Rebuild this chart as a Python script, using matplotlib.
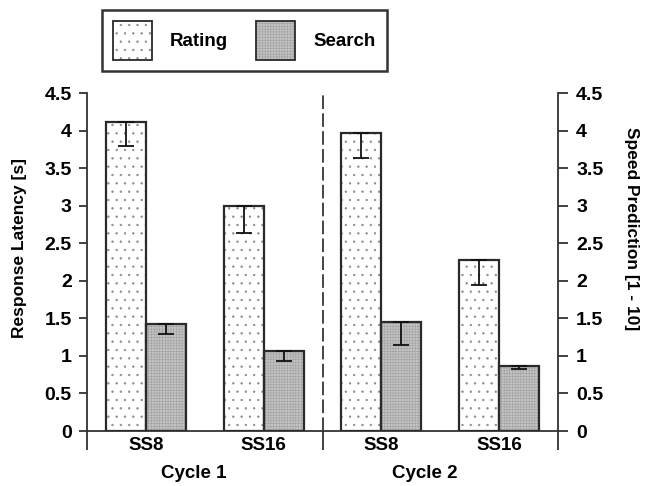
import matplotlib
matplotlib.use("Agg")
import matplotlib.pyplot as plt
from matplotlib.patches import Patch, Rectangle

plt.rcParams['font.family'] = ['Liberation Sans', 'DejaVu Sans']
plt.rcParams['font.weight'] = 'bold'
plt.rcParams['hatch.linewidth'] = 0.45

# Data
conditions = ["SS8", "SS16", "SS8", "SS16"]
cycles = ["Cycle 1", "Cycle 2"]
rating = [4.12, 3.00, 3.97, 2.28]
rating_err = [0.32, 0.36, 0.33, 0.33]
search = [1.42, 1.06, 1.45, 0.87]
search_err = [0.13, 0.13, 0.31, 0.04]
yticks = [0, 0.5, 1, 1.5, 2, 2.5, 3, 3.5, 4, 4.5]
ytick_labels = ["0", "0.5", "1", "1.5", "2", "2.5", "3", "3.5", "4", "4.5"]

W, H = 646, 486
fig = plt.figure(figsize=(W / 100, H / 100), dpi=100)
ax = fig.add_axes([87 / W, 1 - 431 / H, 471 / W, 338 / H])

centers = [0.5, 1.5, 2.5, 3.5]
bw = 0.34
edge = '#2a2a2a'
rating_dots = '#8a8a8a'
search_fill = '#c4c4c4'
search_grid = '#a2a2a2'
x_r = [c - bw / 2 for c in centers]
x_s = [c + bw / 2 for c in centers]

# Rating bars: dotted fill
ax.bar(x_r, rating, bw, color='white', hatch='..', edgecolor=rating_dots, linewidth=0, zorder=2)
ax.bar(x_r, rating, bw, fill=False, edgecolor=edge, linewidth=1.6, zorder=3)
# Search bars: fine grey grid fill
ax.bar(x_s, search, bw, color=search_fill, hatch='++++++', edgecolor=search_grid, linewidth=0, zorder=2)
ax.bar(x_s, search, bw, fill=False, edgecolor=edge, linewidth=1.6, zorder=3)

# Lower-only error bars
ax.errorbar(x_r, rating, yerr=[rating_err, [0] * 4], fmt='none', ecolor='#111111',
            elinewidth=1.3, capsize=5.5, capthick=1.3, zorder=4)
ax.errorbar(x_s, search, yerr=[search_err, [0] * 4], fmt='none', ecolor='#111111',
            elinewidth=1.3, capsize=5.5, capthick=1.3, zorder=4)

# Cycle separator
ax.axvline(2, color='#444444', linestyle=(0, (7, 2.2)), linewidth=1.4, zorder=1)

ax.set_xlim(0, 4)
ax.set_ylim(0, 4.5)
ax.spines['top'].set_visible(False)
for s in ['left', 'right', 'bottom']:
    ax.spines[s].set_linewidth(1.3)
    ax.spines[s].set_color('#333333')

ax.set_xticks([0, 2, 4])
ax.set_xticklabels([])
ax.tick_params(axis='x', which='major', length=13.5, width=1.3, color='#333333', direction='out')
ax.set_xticks(centers, minor=True)
ax.set_xticklabels(conditions, minor=True, fontsize=13.5, fontweight='bold')
ax.tick_params(axis='x', which='minor', length=0, pad=4)

ax.set_yticks(yticks)
ax.set_yticklabels(ytick_labels, fontsize=14, fontweight='bold')
ax.tick_params(axis='y', length=6, width=1.3, color='#333333', pad=5)
ax.set_ylabel("Response Latency [s]", fontsize=12.5, fontweight='bold')
ax.yaxis.set_label_coords(-0.127, 0.54)

ax2 = ax.twinx()
ax2.set_ylim(0, 4.5)
ax2.set_yticks(yticks)
ax2.set_yticklabels(ytick_labels, fontsize=14, fontweight='bold')
ax2.tick_params(axis='y', length=7, width=1.3, color='#333333', pad=6)
for s in ['left', 'right', 'bottom', 'top']:
    ax2.spines[s].set_visible(False)
ax2.set_ylabel("Speed Prediction [1 - 10]", fontsize=12.5, fontweight='bold', rotation=-90,
               va='center')
ax2.yaxis.set_label_coords(1.157, 0.60)

# Cycle labels under the condition labels
ax.text(0.91, -0.102, cycles[0], transform=ax.get_xaxis_transform(), ha='center', va='top',
        fontsize=13.5, fontweight='bold')
ax.text(2.87, -0.102, cycles[1], transform=ax.get_xaxis_transform(), ha='center', va='top',
        fontsize=13.5, fontweight='bold')


class FilledBoxHandler:
    """Legend key drawn as a hatched fill plus a dark outline."""

    def __init__(self, face, hatch, hatch_color):
        self.face, self.hatch, self.hatch_color = face, hatch, hatch_color

    def legend_artist(self, legend, orig_handle, fontsize, handlebox):
        x0, y0 = handlebox.xdescent, handlebox.ydescent
        w, h = handlebox.width, handlebox.height
        fill = Rectangle((-x0, -y0), w, h, facecolor=self.face, hatch=self.hatch,
                         edgecolor=self.hatch_color, linewidth=0,
                         transform=handlebox.get_transform())
        outline = Rectangle((-x0, -y0), w, h, fill=False, edgecolor=edge, linewidth=1.3,
                            transform=handlebox.get_transform())
        handlebox.add_artist(fill)
        handlebox.add_artist(outline)
        return outline


h_rating = Patch(label='Rating')
h_search = Patch(label='Search')
leg = fig.legend(handles=[h_rating, h_search], loc='upper left',
                 bbox_to_anchor=(102 / W, 1 - 10 / H),
                 handler_map={h_rating: FilledBoxHandler('white', '..', rating_dots),
                              h_search: FilledBoxHandler(search_fill, '++++++', search_grid)},
                 ncol=2, fontsize=13.5, frameon=True, fancybox=False, edgecolor='black',
                 handlelength=2.08, handleheight=2.82, handletextpad=0.95, columnspacing=1.5,
                 borderpad=0.6, borderaxespad=0)
leg.get_frame().set_linewidth(1.8)
for t in leg.get_texts():
    t.set_fontweight('bold')

fig.savefig("out.png", dpi=100)
